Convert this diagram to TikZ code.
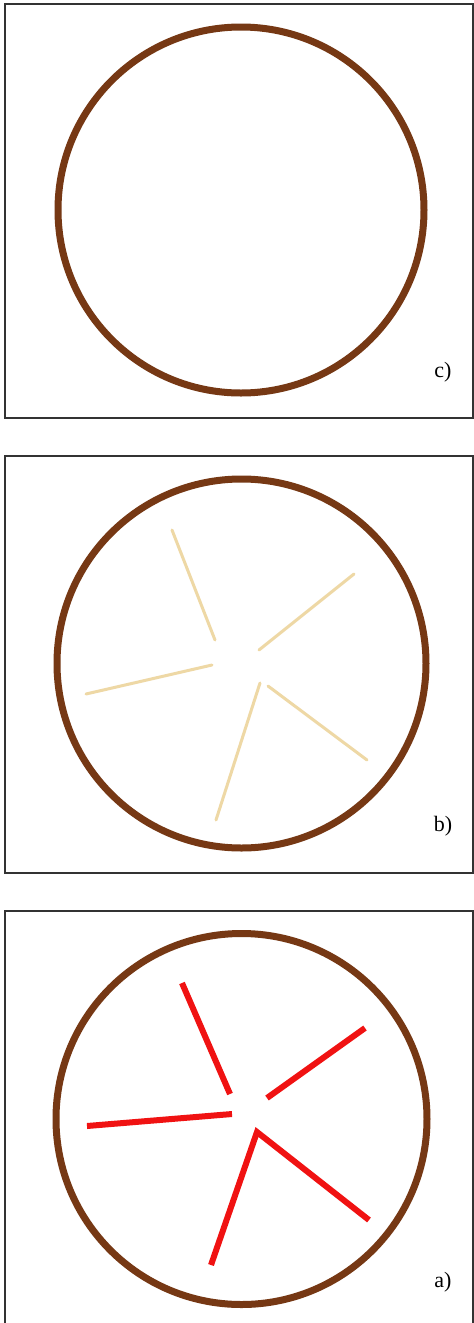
\documentclass[tikz,border=0pt]{standalone}
\usepackage{fontspec}
\setmainfont{Liberation Serif}
\begin{document}
\begin{tikzpicture}[x=1pt,y=-1pt,
  frame/.style={draw=black!80,line width=1.1pt},
  rim/.style={draw=rimbrown,line width=7pt},
  spoke/.style={draw=spoketan,line width=3pt,line cap=round},
  redbar/.style={draw=barred,line width=6pt},
  lbl/.style={font=\fontsize{22}{24}\selectfont,inner sep=0pt}]
\definecolor{rimbrown}{RGB}{118,56,20}
\definecolor{spoketan}{RGB}{238,216,165}
\definecolor{barred}{RGB}{240,18,18}
\useasboundingbox (0,0) rectangle (474,1323);
\fill[white] (0,0) rectangle (474,1323);
% panel c
\draw[frame] (5,4) rectangle (473,418);
\draw[rim] (241,210) circle (183);
\node[lbl] (lc) at (443,372) {c)};
% panel b
\draw[frame] (5,456) rectangle (473,873);
\draw[rim] (241.5,663.5) circle (184.5);
\draw[spoke] (172,530) -- (215,640);
\draw[spoke] (354,574) -- (259,650);
\draw[spoke] (212,665) -- (86,694);
\draw[spoke] (260,683) -- (216,820);
\draw[spoke] (268,686) -- (367,760);
\node[lbl] (lb) at (443,826) {b)};
% panel a
\draw[frame] (5,1330) -- (5,911) -- (473,911) -- (473,1330);
\draw[rim] (241.5,1119) circle (185.5);
\draw[redbar] (182,983) -- (230,1094);
\draw[redbar] (365,1028) -- (267,1098);
\draw[redbar] (232,1114) -- (87,1126);
\draw[redbar,line join=miter] (211,1265) -- (257,1132) -- (369,1220);
\node[lbl] (la) at (443,1282) {a)};
\end{tikzpicture}
\end{document}
